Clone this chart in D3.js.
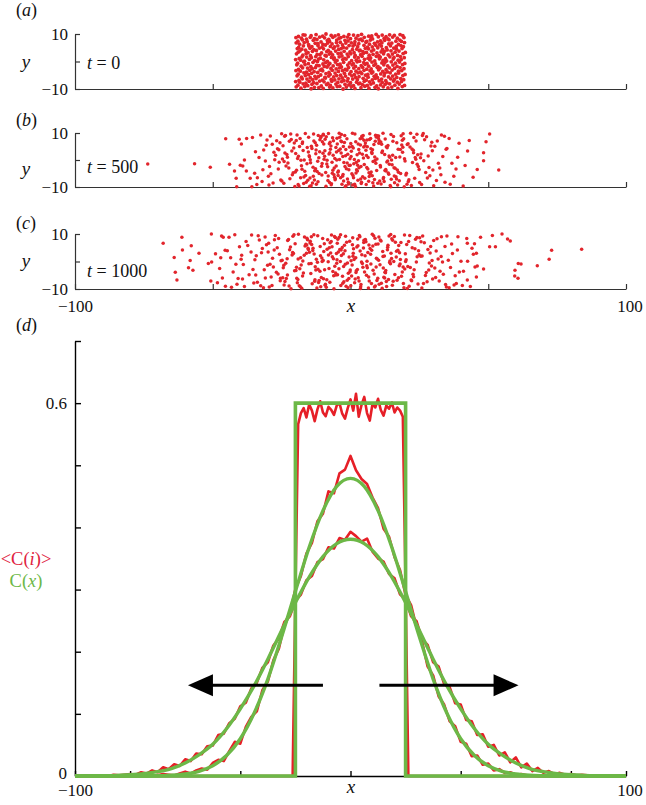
<!DOCTYPE html>
<html><head><meta charset="utf-8">
<script src="https://cdn.jsdelivr.net/npm/d3@7"></script>
<style>
body{margin:0;background:#fff}svg{display:block}
</style>
</head><body><svg id="chart" width="646" height="805"></svg>
<script>
// ---------- DATA ----------
const panelLetters = ["a", "b", "c", "d"];
const timeLabels = ["0", "500", "1000"];
const scatterYTicks = [-10, 0, 10];
const scatterXTicksTop = [-50, 0, 50, 100];
const scatterXTicksBottom = [-100, -50, 0, 50, 100];
const profileXTicks = [-100, -80, -40, 0, 40, 80, 100];
const profileYTicks = [0, 0.1, 0.2, 0.3, 0.4, 0.5, 0.6, 0.7];
const profileYLabels = ["0", "0.6"];

// panel (a) particles, t = 0
const aX = [
-19.7,-18.0,-16.6,-14.3,-13.1,-11.5,-9.9,-7.6,-6.4,-4.8,-2.7,-1.5,0.3,1.6,3.8,5.2,6.7,8.9,10.1,11.9,13.6,15.0,17.2,18.8,
-19.1,-17.2,-15.5,-14.0,-12.2,-10.6,-8.7,-7.3,-5.3,-3.9,-2.0,-0.6,1.1,2.9,4.3,6.1,7.4,9.5,10.9,12.6,14.2,16.1,17.7,19.6,
-19.9,-18.4,-16.2,-15.0,-13.4,-11.2,-9.6,-8.2,-6.8,-4.6,-3.2,-1.1,0.0,2.2,3.4,5.0,6.9,8.3,10.4,11.5,13.2,15.6,17.0,18.5,
-18.7,-17.5,-15.8,-13.7,-12.5,-10.2,-9.1,-7.0,-5.7,-4.2,-2.4,-0.9,0.8,2.5,4.6,5.7,7.9,9.0,11.3,12.8,14.6,15.9,18.2,19.3,
-19.4,-17.8,-16.4,-14.6,-12.9,-11.7,-9.3,-7.9,-6.1,-5.0,-3.0,-1.8,0.5,1.9,3.1,5.5,6.4,8.6,9.8,12.2,13.8,15.3,16.8,19.0,
-19.0,-16.9,-15.2,-14.1,-11.9,-10.8,-8.9,-7.4,-5.6,-3.6,-2.2,-0.3,1.4,2.7,4.1,6.3,7.7,9.3,11.0,12.4,14.4,16.4,17.5,19.8,
-19.8,-18.2,-16.0,-14.8,-13.2,-11.0,-10.1,-7.8,-6.6,-4.4,-2.9,-1.3,0.2,2.0,3.6,4.9,7.1,8.1,10.2,11.7,13.4,15.1,17.4,18.6,
-18.9,-17.4,-15.6,-13.9,-12.7,-10.4,-8.5,-7.1,-5.2,-4.0,-1.9,-0.7,1.2,3.0,4.4,5.9,7.5,9.7,10.7,12.9,14.1,16.0,18.0,19.4,
-19.5,-17.9,-16.5,-14.4,-12.3,-11.4,-9.5,-8.0,-6.3,-4.7,-3.3,-1.0,0.6,1.8,3.9,5.3,6.6,8.5,10.0,12.1,13.5,15.4,16.9,18.9,
-19.2,-17.0,-15.3,-13.6,-12.0,-10.0,-9.0,-7.5,-5.5,-3.8,-2.5,-0.4,1.0,2.4,4.8,6.0,7.8,9.1,11.4,12.5,14.8,16.3,17.8,19.7,
-19.9,-18.1,-16.7,-14.9,-13.0,-11.6,-9.7,-8.4,-6.0,-4.9,-2.8,-1.6,0.4,2.1,3.3,5.1,7.0,8.8,10.5,11.8,13.1,15.5,17.3,18.4,
-18.6,-17.6,-15.9,-14.2,-12.6,-10.9,-8.8,-6.9,-5.9,-4.1,-2.1,-0.8,1.5,2.8,4.2,6.4,7.3,9.4,10.8,12.7,14.3,15.8,18.1,19.5,
-19.6,-17.3,-16.1,-14.5,-12.1,-11.1,-9.2,-7.7,-6.5,-4.5,-3.1,-1.2,0.1,1.7,3.7,4.7,6.8,8.2,10.3,12.0,13.7,15.2,17.1,19.1,
-19.0,-18.3,-15.4,-13.8,-12.4,-10.5,-8.6,-7.2,-5.4,-3.5,-2.3,-0.2,1.3,3.2,4.5,5.8,7.6,9.6,11.1,12.3,14.7,16.2,17.6,19.9,
-19.3,-17.7,-16.3,-14.7,-13.3,-11.3,-9.8,-8.1,-6.2,-4.3,-3.4,-1.4,0.7,2.3,3.5,5.4,6.5,8.4,9.9,11.6,13.3,15.7,16.7,18.7,
-18.8,-17.1,-15.1,-14.0,-11.8,-10.3,-9.1,-7.3,-5.8,-4.6,-2.6,-0.5,0.9,2.6,4.9,6.2,7.9,9.2,11.2,13.0,14.5,16.6,18.3,19.2,
-19.7,-18.5,-16.8,-15.2,-12.8,-11.8,-10.0,-8.3,-6.7,-5.1,-2.9,-1.7,0.3,1.5,3.0,5.6,6.9,8.7,10.6,11.4,13.9,15.0,17.4,19.6,
-19.1,-17.5,-15.7,-13.5,-12.2,-10.7,-8.4,-7.6,-5.0,-3.7,-2.0,-0.9,1.6,3.1,4.3,5.9,7.2,9.8,10.9,12.4,14.0,16.5,17.9,18.5,
-19.8,-17.8,-16.0,-14.6,-13.1,-11.2,-9.4,-7.9,-6.4,-4.2,-3.5,-1.1,0.0,2.0,3.8,5.0,7.5,8.0,10.1,12.2,13.6,15.3,17.0,19.4,
-18.9,-17.2,-16.5,-14.3,-12.5,-10.1,-8.9,-7.0,-5.6,-4.4,-2.4,-0.6,1.1,2.7,4.0,6.6,7.7,9.3,11.5,12.9,14.2,15.9,18.0,19.0
];
const aY = [
-9.2,-9.7,-9.1,-9.9,-9.4,-9.5,-9.8,-9.3,-9.6,-9.1,-10.0,-9.3,-9.2,-9.8,-9.5,-9.0,-9.7,-9.4,-9.9,-9.2,-9.6,-9.3,-9.8,-9.1,
-8.6,-8.1,-8.8,-8.3,-8.0,-8.9,-8.4,-8.7,-8.2,-9.0,-8.3,-8.5,-8.8,-8.1,-8.4,-8.7,-8.2,-8.9,-8.5,-8.3,-8.1,-8.6,-8.2,-8.7,
-7.3,-7.5,-7.9,-7.2,-7.7,-7.1,-7.4,-8.0,-7.2,-7.6,-7.3,-7.1,-7.7,-7.5,-7.9,-7.2,-7.4,-7.8,-7.0,-7.6,-7.8,-7.1,-7.5,-7.3,
-6.9,-6.3,-6.4,-6.6,-6.2,-6.8,-6.0,-6.5,-6.7,-6.3,-6.9,-6.2,-6.4,-6.6,-6.1,-6.8,-6.7,-6.1,-6.4,-7.0,-6.3,-6.5,-6.2,-6.6,
-5.2,-5.7,-5.1,-5.9,-5.4,-5.5,-5.8,-5.3,-5.6,-5.1,-6.0,-5.3,-5.2,-5.8,-5.5,-5.0,-5.7,-5.4,-5.9,-5.2,-5.6,-5.3,-5.8,-5.1,
-4.6,-4.1,-4.8,-4.3,-4.0,-4.9,-4.4,-4.7,-4.2,-5.0,-4.3,-4.5,-4.8,-4.1,-4.4,-4.7,-4.2,-4.9,-4.5,-4.3,-4.1,-4.6,-4.2,-4.7,
-3.3,-3.5,-3.9,-3.2,-3.7,-3.1,-3.4,-4.0,-3.2,-3.6,-3.3,-3.1,-3.7,-3.5,-3.9,-3.2,-3.4,-3.8,-3.0,-3.6,-3.8,-3.1,-3.5,-3.3,
-2.9,-2.3,-2.4,-2.6,-2.2,-2.8,-2.0,-2.5,-2.7,-2.3,-2.9,-2.2,-2.4,-2.6,-2.1,-2.8,-2.7,-2.1,-2.4,-3.0,-2.3,-2.5,-2.2,-2.6,
-1.2,-1.7,-1.1,-1.9,-1.4,-1.5,-1.8,-1.3,-1.6,-1.1,-2.0,-1.3,-1.2,-1.8,-1.5,-1.0,-1.7,-1.4,-1.9,-1.2,-1.6,-1.3,-1.8,-1.1,
-0.6,-0.1,-0.8,-0.3,0.0,-0.9,-0.4,-0.7,-0.2,-1.0,-0.3,-0.5,-0.8,-0.1,-0.4,-0.7,-0.2,-0.9,-0.5,-0.3,-0.1,-0.6,-0.2,-0.7,
0.7,0.5,0.1,0.8,0.3,0.9,0.6,0.0,0.8,0.4,0.7,0.9,0.3,0.5,0.1,0.8,0.6,0.2,1.0,0.4,0.2,0.9,0.5,0.7,
1.1,1.7,1.6,1.4,1.8,1.2,2.0,1.5,1.3,1.7,1.1,1.8,1.6,1.4,1.9,1.2,1.3,1.9,1.6,1.0,1.7,1.5,1.8,1.4,
2.8,2.3,2.9,2.1,2.6,2.5,2.2,2.7,2.4,2.9,2.0,2.7,2.8,2.2,2.5,3.0,2.3,2.6,2.1,2.8,2.4,2.7,2.2,2.9,
3.4,3.9,3.2,3.7,4.0,3.1,3.6,3.3,3.8,3.0,3.7,3.5,3.2,3.9,3.6,3.3,3.8,3.1,3.5,3.7,3.9,3.4,3.8,3.3,
4.7,4.5,4.1,4.8,4.3,4.9,4.6,4.0,4.8,4.4,4.7,4.9,4.3,4.5,4.1,4.8,4.6,4.2,5.0,4.4,4.2,4.9,4.5,4.7,
5.1,5.7,5.6,5.4,5.8,5.2,6.0,5.5,5.3,5.7,5.1,5.8,5.6,5.4,5.9,5.2,5.3,5.9,5.6,5.0,5.7,5.5,5.8,5.4,
6.8,6.3,6.9,6.1,6.6,6.5,6.2,6.7,6.4,6.9,6.0,6.7,6.8,6.2,6.5,7.0,6.3,6.6,6.1,6.8,6.4,6.7,6.2,6.9,
7.4,7.9,7.2,7.7,8.0,7.1,7.6,7.3,7.8,7.0,7.7,7.5,7.2,7.9,7.6,7.3,7.8,7.1,7.5,7.7,7.9,7.4,7.8,7.3,
8.7,8.5,8.1,8.8,8.3,8.9,8.6,8.0,8.8,8.4,8.7,8.9,8.3,8.5,8.1,8.8,8.6,8.2,9.0,8.4,8.2,8.9,8.5,8.7,
9.1,9.7,9.6,9.4,9.8,9.2,10.0,9.5,9.3,9.7,9.1,9.8,9.6,9.4,9.9,9.2,9.3,9.9,9.6,9.0,9.7,9.5,9.8,9.4
];

// panel (b) particles, t = 500
const bX = [
0.3,2.7,4.1,1.2,3.6,0.8,4.7,2.0,1.6,3.1,0.1,4.4,2.4,3.9,1.0,2.9,4.9,0.5,3.3,1.8,4.2,2.2,0.6,3.7,1.4,4.6,2.6,0.9,3.0,1.9,4.0,0.2,2.5,3.5,1.1,4.8,2.1,0.7,3.8,1.5,4.3,2.8,
-3.4,-1.9,-4.9,-0.6,-2.6,-1.1,-4.0,-2.1,-0.1,-4.5,-1.7,-3.2,-0.8,-2.8,-4.4,-1.3,-3.6,-0.4,-2.4,-4.1,-2.0,-3.1,-1.0,-4.8,-2.5,-1.5,-3.9,-0.2,-2.9,-4.3,-1.2,-3.5,-0.7,-2.2,-4.6,-1.8,-3.3,-0.5,-2.7,-3.7,-1.6,-5.0,
5.2,7.8,9.1,6.3,8.5,5.7,9.6,6.9,7.2,8.0,5.0,9.3,6.6,8.8,7.5,5.4,9.9,6.1,8.2,7.0,5.9,9.0,6.8,7.7,8.4,5.3,9.5,6.4,7.3,8.7,5.6,9.2,6.0,7.9,8.1,5.8,9.7,6.7,7.4,8.9,
-5.3,-7.6,-9.4,-6.2,-8.3,-5.8,-9.8,-6.7,-7.1,-8.9,-5.1,-9.0,-6.5,-8.6,-7.4,-5.6,-9.6,-6.0,-8.0,-7.8,-5.9,-9.2,-6.9,-7.3,-8.5,-5.5,-9.7,-6.3,-7.0,-8.8,-5.2,-9.3,-6.6,-7.7,-8.2,-5.7,-9.9,-6.4,-7.5,-8.1,
10.4,12.9,14.2,11.1,13.6,10.8,14.7,12.0,11.6,13.2,10.1,14.4,12.4,13.9,11.0,12.8,14.9,10.6,13.3,11.8,14.1,12.2,10.3,13.7,11.4,14.6,12.6,10.9,13.0,11.9,14.0,10.2,12.5,13.5,11.3,14.8,
-10.5,-12.8,-14.3,-11.2,-13.5,-10.7,-14.6,-12.1,-11.7,-13.1,-10.0,-14.5,-12.3,-13.8,-11.1,-12.7,-14.9,-10.4,-13.4,-11.9,-14.0,-12.4,-10.2,-13.6,-11.5,-14.7,-12.5,-10.8,-13.0,-11.8,-14.2,-10.3,-12.6,-13.3,-11.4,-14.8,
15.3,17.7,19.0,16.2,18.4,15.9,19.6,16.8,17.1,18.9,15.1,19.3,16.5,18.1,17.4,15.6,19.8,16.0,18.6,17.9,15.8,19.1,16.7,17.3,18.2,15.4,19.5,16.4,17.0,18.8,
-15.2,-17.6,-19.2,-16.1,-18.5,-15.8,-19.7,-16.9,-17.2,-18.7,-15.0,-19.4,-16.6,-18.0,-17.5,-15.5,-19.9,-16.3,-18.3,-17.8,-15.7,-19.0,-16.8,-17.4,-18.1,-15.3,-19.6,-16.4,-17.0,-18.9,
20.3,22.8,24.1,21.2,23.5,20.9,24.6,22.1,21.6,23.0,20.1,24.4,22.5,23.8,21.0,22.9,24.9,20.6,23.3,21.8,24.2,22.3,20.5,23.7,
-20.4,-22.7,-24.2,-21.3,-23.6,-20.8,-24.7,-22.0,-21.5,-23.1,-20.2,-24.5,-22.4,-23.9,-21.1,-22.9,-24.9,-20.6,-23.4,-21.7,-24.1,-22.2,-20.0,-23.8,
25.4,27.9,29.2,26.1,28.5,25.8,29.7,26.9,27.3,28.2,25.1,29.5,26.6,28.8,27.6,25.6,29.9,26.4,
-25.3,-27.8,-29.1,-26.2,-28.4,-25.9,-29.6,-26.8,-27.2,-28.9,-25.0,-29.4,-26.5,-28.1,-27.5,-25.6,-29.8,-26.0,
30.6,32.4,34.1,31.2,33.5,30.2,34.7,31.9,33.0,32.8,31.5,34.3,
-32.6,-34.5,-31.5,-30.9,-33.8,-30.3,-34.0,-31.8,-33.2,-32.1,-30.6,-34.8,
35.8,35.0,36.8,39.4,37.5,38.3,36.2,38.9,
-37.7,-35.6,-39.6,-37.8,-35.8,-38.5,-36.4,-39.1,
40.9,42.5,43.1,44.5,41.6,
-40.4,-43.9,-41.3,-42.1,-40.0,-41.5,
48.3,48.3,49.2,46.0,
-45.3,50.5,53.8,-50.9,-56.6,-73.6
];
const bY = [
3.2,-7.5,8.8,-1.4,5.6,-9.3,0.7,-4.8,9.6,-2.9,6.1,-6.2,1.9,-8.7,4.4,-0.3,7.3,-5.1,2.6,-9.8,8.1,-3.6,5.0,-7.0,0.2,9.1,-1.9,-5.7,3.9,6.8,-8.2,1.3,-4.1,7.9,-6.6,4.8,-0.9,9.9,-2.4,-9.0,2.1,5.9,
2.6,-9.8,8.1,-3.6,5.0,-7.0,0.2,9.1,-1.9,-5.7,3.9,6.8,-8.2,1.3,-4.1,7.9,-6.6,4.8,-0.9,9.9,-2.4,-9.0,2.1,5.9,-7.8,-3.2,8.4,0.5,-6.0,3.5,-1.1,7.0,-8.9,6.5,-4.5,1.6,9.4,-2.0,-5.4,4.1,-9.5,0.0,
-6.8,2.4,9.2,-3.3,5.7,-9.1,0.4,7.6,-5.2,3.8,-1.7,8.5,-7.9,1.1,-4.4,6.3,-8.6,4.9,-0.6,9.7,-2.8,6.9,-6.1,2.9,-9.6,5.3,-3.9,0.9,8.0,-7.2,3.6,-1.2,7.4,-5.8,-8.4,1.7,9.0,-4.7,4.2,-0.2,
4.6,-8.3,1.4,7.1,-2.5,-6.4,9.3,-0.8,5.2,-9.7,3.0,-4.6,8.2,-1.5,6.6,-7.3,0.3,-5.5,9.8,2.2,-3.0,7.7,-8.8,4.0,-0.1,-6.9,5.9,1.8,-9.2,8.6,-2.2,3.4,-4.9,6.0,-7.6,0.6,9.5,-3.8,2.7,-5.9,
7.2,-4.1,1.0,-8.9,5.4,-2.0,9.4,-6.5,3.3,-0.7,8.1,-9.4,2.0,-5.3,6.7,-3.5,0.0,-7.8,4.5,9.9,-1.6,-8.0,6.2,-4.8,2.8,-9.9,7.8,-2.6,4.9,-6.9,1.5,8.9,-3.9,-0.4,5.8,-7.1,
-2.3,6.4,-9.5,3.1,-6.0,8.7,0.1,-4.3,9.1,-7.4,2.5,-1.0,5.5,-8.5,7.5,-3.2,1.2,-5.6,9.6,-0.5,4.3,-9.0,6.8,-2.7,0.8,-6.7,3.7,8.3,-4.0,-8.1,5.1,-1.3,2.3,7.0,-5.0,-9.7,
1.8,-7.7,4.7,-3.1,9.0,-5.9,0.5,6.4,-9.3,2.9,-1.8,7.9,-6.2,3.9,-4.5,8.7,-0.4,-8.4,5.6,1.1,-2.9,9.7,-7.0,4.0,-5.0,6.9,-9.9,0.9,-3.7,7.3,
8.4,-3.4,0.6,-8.2,5.0,-1.4,7.2,-6.3,3.5,-9.6,1.6,9.3,-4.2,-0.1,6.1,-7.5,2.4,-5.7,8.0,-2.1,4.6,-9.1,0.0,6.7,-6.6,3.0,-3.8,9.8,-8.7,1.4,
-4.9,3.6,9.5,-7.3,0.9,6.0,-2.4,-9.4,4.8,8.3,-5.6,1.9,-0.9,7.0,-8.0,2.7,-3.5,5.7,-6.8,9.9,-1.6,4.1,-9.0,0.3,
6.3,-1.1,-8.6,3.3,9.1,-4.7,0.4,-6.9,7.6,2.0,-9.8,5.3,-3.0,8.8,-5.5,1.0,-7.8,4.4,-2.2,9.6,-0.6,6.9,-4.4,2.6,
0.8,-6.7,5.2,9.1,-2.8,-9.1,3.4,7.5,-4.6,1.5,-8.3,6.6,-0.3,-5.8,8.6,2.2,-3.7,9.8,
-7.4,2.9,8.9,-3.3,5.8,-0.8,-9.3,7.1,1.8,-5.1,9.7,-2.4,4.2,-8.5,0.1,6.4,-6.0,3.8,
5.1,-3.0,8.8,-7.6,1.3,-9.5,4.0,-1.2,9.3,-5.5,7.0,-8.2,
9.3,3.1,3.7,-0.4,-6.6,7.4,-9.1,-3.6,0.9,-8.0,5.5,-4.9,
8.0,4.3,-1.2,6.2,-6.0,-3.3,-9.0,1.0,
8.0,8.3,5.9,-4.1,-9.9,0.0,-6.8,-2.2,
-9.6,3.3,7.2,-6.4,-2.0,
7.7,-1.6,-9.9,-4.1,-1.9,-6.8,
2.7,-0.3,6.8,-3.5,
7.9,9.6,-3.7,-2.7,-1.4,-1.5
];

// panel (c) particles, t = 1000
const cX = [
0.4,2.6,4.3,1.1,3.7,0.9,4.8,2.1,1.5,3.2,0.2,4.5,2.3,3.8,1.0,2.8,4.9,0.6,3.4,1.7,4.1,2.0,0.7,3.6,1.3,4.7,2.5,0.8,3.1,1.9,4.0,0.1,2.7,3.5,
-0.3,-2.5,-4.4,-1.2,-3.6,-0.8,-4.9,-2.2,-1.6,-3.3,-0.1,-4.6,-2.4,-3.9,-1.1,-2.9,-4.8,-0.5,-3.5,-1.8,-4.2,-2.0,-0.6,-3.7,-1.4,-4.7,-2.6,-0.9,-3.0,-1.9,-4.1,-0.2,-2.8,-3.4,
5.3,7.6,9.2,6.1,8.4,5.8,9.7,6.8,7.1,8.9,5.1,9.4,6.5,8.1,7.4,5.6,9.9,6.3,8.6,7.9,5.9,9.0,6.7,7.3,8.2,5.4,9.6,6.0,7.7,8.7,5.2,9.3,6.6,
-5.4,-7.7,-9.1,-6.2,-8.3,-5.7,-9.8,-6.9,-7.2,-8.8,-5.0,-9.5,-6.4,-8.0,-7.5,-5.5,-9.9,-6.1,-8.5,-7.8,-5.8,-9.2,-6.6,-7.4,-8.1,-5.3,-9.7,-6.0,-7.0,-8.6,-5.1,-9.4,-6.7,
10.3,12.8,14.3,11.2,13.5,10.7,14.6,12.1,11.7,13.1,10.0,14.5,12.3,13.8,11.1,12.7,14.9,10.4,13.4,11.9,14.0,12.4,10.2,13.6,11.5,14.7,12.5,10.8,13.0,11.8,14.2,
-10.4,-12.9,-14.2,-11.1,-13.6,-10.8,-14.7,-12.0,-11.6,-13.2,-10.1,-14.4,-12.4,-13.9,-11.0,-12.8,-14.9,-10.6,-13.3,-11.8,-14.1,-12.2,-10.3,-13.7,-11.4,-14.6,-12.6,-10.9,-13.0,-11.9,-14.3,
15.2,17.8,19.1,16.3,18.5,15.7,19.6,16.9,17.2,18.8,15.0,19.4,16.6,18.0,17.5,15.5,19.9,16.1,18.3,17.7,15.9,19.2,16.7,17.4,18.1,15.3,19.7,
-15.3,-17.7,-19.0,-16.2,-18.4,-15.8,-19.5,-16.8,-17.1,-18.9,-15.1,-19.3,-16.5,-18.1,-17.4,-15.6,-19.8,-16.0,-18.6,-17.9,-15.9,-19.1,-16.7,-17.3,-18.2,-15.4,-19.6,
20.4,22.7,24.2,21.3,23.6,20.8,24.7,22.0,21.5,23.1,20.2,24.5,22.4,23.9,21.1,22.9,24.9,20.6,23.4,21.7,24.1,22.2,20.0,
-20.3,-22.8,-24.1,-21.2,-23.5,-20.9,-24.6,-22.1,-21.6,-23.0,-20.1,-24.4,-22.5,-23.8,-21.0,-22.9,-24.8,-20.5,-23.3,-21.8,-24.2,-22.3,-20.7,
25.5,27.8,29.1,26.2,28.4,25.9,29.6,26.8,27.2,28.9,25.1,29.4,26.5,28.1,27.5,25.6,29.8,26.0,28.6,
-25.4,-27.7,-29.2,-26.1,-28.5,-25.8,-29.7,-26.9,-27.3,-28.8,-25.2,-29.5,-26.6,-28.0,-27.6,-25.5,-29.9,-26.3,-28.3,
33.0,34.3,30.6,32.2,31.1,33.7,30.2,34.8,31.8,32.9,30.9,33.4,31.4,34.5,32.5,
-30.5,-32.6,-34.2,-31.3,-33.5,-30.9,-34.7,-32.0,-31.6,-33.1,-30.1,-34.4,-32.3,-33.8,-31.0,
39.0,38.8,37.6,38.4,35.8,35.0,36.3,37.0,39.5,36.7,35.5,38.0,
-35.4,-37.9,-39.2,-36.1,-38.5,-35.9,-39.7,-36.8,-37.3,-38.9,-35.1,-39.5,
40.1,42.2,42.4,42.5,42.4,44.1,41.0,43.5,40.6,44.6,
-40.3,-42.6,-44.1,-41.2,-43.5,-40.8,-44.7,-42.0,-41.6,-43.2,
45.0,45.7,45.2,46.0,48.3,45.7,47.2,
-48.3,-46.8,-46.2,-47.1,-45.5,-47.5,-46.5,-45.4,-49.0,
51.5,55.0,57.0,58.0,50.5,52.6,60.9,61.9,59.7,59.6,60.8,67.8,72.1,73.0,83.9,
-68.0,-64.0,-63.6,-63.0,-61.2,-61.0,-57.8,-58.2,-58.8,-57.2,-55.0,-50.5,-51.6,-50.4,-50.7
];
const cY = [
-5.3,8.2,-0.7,4.6,-9.2,1.9,6.9,-3.4,-7.7,9.5,0.3,-2.1,5.3,-8.4,3.0,-5.9,7.7,-1.3,9.0,-6.4,2.5,-4.0,6.1,-9.8,0.7,4.9,-2.9,8.6,-7.1,1.4,-0.2,-8.8,5.7,3.8,
7.4,-1.8,3.5,-6.8,9.7,-4.3,0.6,5.9,-9.0,2.2,-3.1,8.1,-7.4,4.4,-0.5,-5.4,6.6,1.6,-8.7,9.2,-2.6,3.9,-6.2,0.0,7.0,-4.8,2.8,-9.5,5.1,-1.0,8.8,-3.7,-7.9,4.2,
2.1,-8.0,6.3,-2.3,9.4,-5.0,0.9,-7.1,4.7,8.5,-3.8,1.2,-9.6,5.6,-0.9,7.2,-6.1,3.3,-4.5,9.9,-1.5,-8.9,6.0,2.6,-3.2,8.0,-6.9,0.1,4.1,-9.3,7.6,-2.0,-5.6,
-4.2,5.0,-8.3,1.0,7.9,-1.7,-6.3,9.6,3.1,-9.4,-0.6,6.5,-3.6,2.4,-7.5,8.7,0.4,-5.2,4.5,-2.5,9.1,-8.6,1.7,6.8,-0.1,-4.9,3.6,-9.9,7.3,-6.6,2.9,-3.0,5.4,
8.9,-3.3,0.2,-7.9,5.2,-1.2,9.8,-5.7,3.6,-9.1,6.4,-0.8,2.0,-6.5,7.5,-4.1,1.1,-8.3,4.3,-2.4,9.3,-6.0,0.5,5.9,-9.7,3.0,-3.9,7.8,-7.3,1.8,-0.4,
1.3,-6.6,9.0,-3.5,4.8,-9.2,6.7,-0.3,-7.6,2.7,8.4,-4.4,0.8,-8.1,5.5,-1.9,3.4,-5.8,9.7,-2.8,6.2,-9.6,0.0,4.0,-6.9,7.4,-3.1,2.1,-7.2,9.4,-0.7,
-8.6,3.2,-2.0,7.0,-5.4,0.0,9.6,-6.8,4.1,-3.8,8.3,-9.5,1.6,-0.9,5.8,-7.2,2.8,-4.7,6.9,-1.5,9.1,-8.0,3.7,-5.9,0.7,7.7,-2.7,
4.4,-9.7,0.9,6.3,-2.6,8.5,-6.1,2.3,-4.2,9.9,-0.8,-7.7,5.6,1.4,-5.3,7.9,-3.3,3.0,-8.8,-1.3,6.0,-6.5,8.9,0.2,-9.2,4.8,-2.1,
6.2,-4.6,1.7,-9.0,8.1,-1.8,3.9,-6.7,9.5,-3.0,0.6,-8.2,5.0,-0.2,7.3,-5.5,2.5,-9.8,4.6,-2.2,8.7,-7.0,0.0,
-3.4,7.6,-8.5,2.4,-0.6,9.2,-5.9,4.3,-9.9,1.0,6.5,-2.3,8.0,-7.3,3.3,-4.9,0.5,9.7,-6.2,5.3,-1.4,-8.9,2.9,
1.9,-7.4,5.5,9.3,-3.1,-9.6,0.4,6.8,-5.1,3.1,8.6,-1.6,-8.0,4.4,-4.0,7.2,-6.4,2.0,-0.5,
-6.1,4.2,-1.0,8.4,-8.7,2.6,6.6,-3.9,9.5,-5.6,0.3,-9.3,5.0,-2.0,7.9,-7.0,3.5,-4.5,1.2,
9.0,5.5,-2.4,-7.1,3.8,-4.6,7.6,-9.3,0.9,1.8,-5.8,-0.2,8.3,-8.4,-3.5,
6.1,-8.8,2.1,-3.0,9.4,-6.0,0.6,4.7,-9.5,7.8,-1.4,-4.9,3.2,-7.5,8.9,
9.0,4.2,-8.5,-8.0,-9.5,9.3,-2.2,2.9,-3.8,6.4,0.5,-5.2,
-2.9,7.3,-6.4,3.5,-9.1,9.6,0.8,-4.8,5.8,-1.1,-7.8,2.3,
0.1,8.4,6.6,0.1,-6.7,4.8,-3.5,-9.1,-8.7,2.6,
5.4,-3.8,8.8,-8.3,1.4,-6.2,3.9,9.7,-1.0,-9.4,
6.5,-5.6,-2.0,-1.6,-2.7,3.0,8.8,
-7.7,9.3,8.8,1.4,4.1,-2.5,-6.0,-9.0,2.8,
9.5,10.0,8.2,7.5,5.4,5.4,-0.7,-0.9,-3.2,-5.3,-6.1,-1.5,0.8,4.1,4.5,
6.6,1.5,-3.9,-6.7,8.8,4.2,5.7,0.4,-2.3,-3.2,3.0,10.0,-0.7,-0.2,-7.1
];

// panel (d): simulated <C(i)> (red), sampled every 1 (t=0) and every 2 (t=500, t=1000) from x=-100
const redT0 = [
0,0,0,0,0,0,0,0,0,0, 0,0,0,0,0,0,0,0,0,0, 0,0,0,0,0,0,0,0,0,0, 0,0,0,0,0,0,0,0,0,0,
0,0,0,0,0,0,0,0,0,0, 0,0,0,0,0,0,0,0,0,0, 0,0,0,0,0,0,0,0,0,0, 0,0,0,0,0,0,0,0,0,0,
.29,
.566,.584,.592,.577,.598,.588,.571,.590,.603,.585,.579,.594,.589,.581,.596,.600,.583,.575,.592,.606,
.588,.615,.578,.597,.610,.584,.572,.599,.593,.607,.589,.580,.596,.591,.601,.585,.593,.588,.578,
.30,
0,0,0,0,0,0,0,0,0,0, 0,0,0,0,0,0,0,0,0,0, 0,0,0,0,0,0,0,0,0,0, 0,0,0,0,0,0,0,0,0,0,
0,0,0,0,0,0,0,0,0,0, 0,0,0,0,0,0,0,0,0,0, 0,0,0,0,0,0,0,0,0,0, 0,0,0,0,0,0,0,0,0,0
];
const redT500 = [
0,0,0,0,0,0,0,0,0,0,.001,0,.001,0,.001,
.001,.003,.002,.001,.004,.007,.004,.009,.012,.010,
.021,.026,.024,.040,.055,.052,.079,.095,.104,.138,
.152,.186,.205,.243,.262,.301,.322,.358,.375,.410,
.422,.458,.455,.487,.493,.515,.492,.478,.470,.448,
.431,.398,.385,.352,.331,.291,.275,.239,.216,.176,
.162,.128,.115,.088,.080,.055,.052,.032,.033,.018,
.020,.009,.011,.005,.006,.002,.003,.001,.001,0,
0,
0,0,0,0,0,0,0,0,0,0,0,0,0,0,0
];
const redT1000 = [
0,0,.001,0,.001,.001,0,.002,.001,.002,
.003,.002,.006,.004,.009,.006,.014,.011,.019,.016,
.027,.024,.036,.035,.048,.049,.066,.068,.085,.092,
.112,.118,.141,.150,.174,.183,.210,.221,.248,.257,
.282,.292,.315,.322,.344,.349,.368,.366,.383,.380,
.393,.386,.377,.382,.361,.350,.345,.325,.318,.292,
.285,.257,.249,.220,.211,.183,.176,.148,.143,.117,
.115,.090,.088,.066,.067,.047,.050,.033,.038,.022,
.030,.014,.020,.008,.013,.005,.008,.003,.005,.002,
.003,
.001,.002,.001,.001,0,.001,0,0,.001,0
];
// continuum solution C(x) (green), sampled every 5 from x=-100
const greenT500 = [
0,0,0,0,0,0,.0005,.0012,.0032,.0076,.0165,.033,.060,.101,.156,.224,.297,.368,.427,.466,
.479,
.466,.427,.368,.297,.224,.156,.101,.060,.033,.0165,.0076,.0032,.0012,.0005,0,0,0,0,0,0
];
const greenT1000 = [
.0001,.0002,.0005,.001,.002,.0038,.007,.012,.021,.034,.051,.076,.108,.145,.188,.234,.279,.320,.353,.374,
.381,
.374,.353,.320,.279,.234,.188,.145,.108,.076,.051,.034,.021,.012,.007,.0038,.002,.001,.0005,.0002,.0001
];
const greenT0X = [-100, -20, -20, 20, 20, 100];
const greenT0Y = [0, 0, 0.6, 0.6, 0, 0];
// arrows (data coords): tail x, head x, level
const arrowTail = [-10, 10.5];
const arrowHead = [-59, 61];
const arrowLevel = [0.146, 0.146];

// ---------- DRAWING ----------
const SERIF = '"Liberation Serif"';
const RED_DOT = "#e2252c", RED_LINE = "#e61f27", GREEN = "#6cb847";
const svg = d3.select("#chart");
const fmt = d3.format("d");

const x = d3.scaleLinear().domain([-100, 100]).range([75, 626]);

function styleAxis(g, col, w) {
  g.attr("font-size", 17);
  g.select(".domain").attr("stroke", col).attr("stroke-width", w);
  g.selectAll(".tick line").attr("stroke", col).attr("stroke-width", w);
  g.selectAll(".tick text").attr("fill", "#111");
}

const scatterRanges = [[89, 34], [187, 133], [289, 234]];
const scatterData = [[aX, aY], [bX, bY], [cX, cY]];
const dotRadius = [1.9, 1.75, 1.75];
const yLabelBase = [68, 175, 267];
const tLabelBase = [69, 173, 277];
const letterBase = [16, 126, 229];

scatterData.forEach(([xs, ys], i) => {
  const y = d3.scaleLinear().domain([-10, 10]).range(scatterRanges[i]);
  const last = i === 2;
  const gx = svg.append("g").attr("transform", `translate(0,${y(-10)})`)
    .call(d3.axisBottom(x).tickValues(last ? scatterXTicksBottom : scatterXTicksTop)
      .tickSize(-5).tickSizeOuter(0).tickPadding(11)
      .tickFormat(d => (last && Math.abs(d) === 100) ? fmt(d) : ""));
  styleAxis(gx, "#333", 1.2);
  gx.selectAll(".tick text").attr("dx", d => d === 100 ? "0.2em" : 0);
  const gy = svg.append("g").attr("transform", `translate(${x(-100)},0)`)
    .call(d3.axisLeft(y).tickValues(scatterYTicks).tickSize(-5).tickSizeOuter(0).tickPadding(7)
      .tickFormat(d => d === 0 ? "" : fmt(d)));
  styleAxis(gy, "#333", 1.2);

  const n = Math.min(xs.length, ys.length);
  svg.append("g").selectAll("circle").data(d3.range(n)).join("circle")
    .attr("cx", k => x(xs[k])).attr("cy", k => y(ys[k]))
    .attr("r", dotRadius[i]).attr("fill", RED_DOT);

  const pl = svg.append("text").attr("x", 16).attr("y", letterBase[i])
    .attr("font-size", 18).attr("fill", "#111");
  pl.append("tspan").text("(");
  pl.append("tspan").attr("font-style", "italic").text(panelLetters[i]);
  pl.append("tspan").text(")");
  svg.append("text").attr("x", 26).attr("y", yLabelBase[i]).attr("text-anchor", "middle")
    .attr("font-size", 19).attr("font-style", "italic")
    .attr("fill", "#111").text("y");
  const tl = svg.append("text").attr("x", 87).attr("y", tLabelBase[i])
    .attr("font-size", 18).attr("fill", "#111");
  tl.append("tspan").attr("font-style", "italic").text("t");
  tl.append("tspan").text(" = " + timeLabels[i]);
});
svg.append("text").attr("x", 351).attr("y", 312).attr("text-anchor", "middle")
  .attr("font-size", 19).attr("font-style", "italic")
  .attr("fill", "#111").text("x");

// ---------- panel (d) ----------
const yD = d3.scaleLinear().domain([0, 0.7]).range([776, 341]);
const gxd = svg.append("g").attr("transform", `translate(0,${yD(0)})`)
  .call(d3.axisBottom(x).tickValues(profileXTicks).tickSize(-5).tickSizeOuter(0).tickPadding(8)
    .tickFormat(d => Math.abs(d) === 100 ? fmt(d) : ""));
styleAxis(gxd, "#000", 1.4);
gxd.selectAll(".tick text").attr("dx", d => d === 100 ? "0.2em" : 0);
const gyd = svg.append("g").attr("transform", `translate(${x(-100)},0)`)
  .call(d3.axisLeft(yD).tickValues(profileYTicks).tickSize(-6).tickSizeOuter(0).tickPadding(8)
    .tickFormat(d => { const t = d === 0 ? "0" : d3.format(".1f")(d); return profileYLabels.includes(t) ? t : ""; }));
styleAxis(gyd, "#000", 1.4);
gyd.selectAll(".tick text").attr("dy", d => d === 0 ? "0.15em" : "0.32em");

const line = d3.line().x(d => x(d[0])).y(d => yD(d[1]));
const redSeries = [
  [redT0, -100, 1],
  [redT500, -100, 2],
  [redT1000, -100, 2]
];
redSeries.forEach(([vals, x0, step]) => {
  const pts = vals.map((v, k) => [x0 + k * step, v]);
  svg.append("path").attr("d", line(pts)).attr("fill", "none")
    .attr("stroke", RED_LINE).attr("stroke-width", 2.6).attr("stroke-linejoin", "round");
});
const smooth = d3.line().x(d => x(d[0])).y(d => yD(d[1])).curve(d3.curveMonotoneX);
[greenT500, greenT1000].forEach(vals => {
  const pts = vals.map((v, k) => [-100 + k * 5, v]);
  svg.append("path").attr("d", smooth(pts)).attr("fill", "none")
    .attr("stroke", GREEN).attr("stroke-width", 3.4).attr("stroke-linejoin", "round");
});
svg.append("path").attr("d", line(greenT0X.map((v, k) => [v, greenT0Y[k]])))
  .attr("fill", "none").attr("stroke", GREEN).attr("stroke-width", 3.6).attr("stroke-linejoin", "miter");

arrowTail.forEach((t, k) => {
  const x1 = x(t), x2 = x(arrowHead[k]), yy = yD(arrowLevel[k]);
  const dir = Math.sign(x2 - x1), L = 25, Hh = 11;
  svg.append("line").attr("x1", x1).attr("y1", yy).attr("x2", x2 - dir * (L - 2)).attr("y2", yy)
    .attr("stroke", "#000").attr("stroke-width", 3);
  svg.append("path").attr("d", `M${x2},${yy}L${x2 - dir * L},${yy - Hh}L${x2 - dir * L},${yy + Hh}Z`)
    .attr("fill", "#000");
});

const pd = svg.append("text").attr("x", 16).attr("y", 331)
  .attr("font-size", 18).attr("fill", "#111");
pd.append("tspan").text("(");
pd.append("tspan").attr("font-style", "italic").text(panelLetters[3]);
pd.append("tspan").text(")");
svg.append("text").attr("x", 351).attr("y", 793).attr("text-anchor", "middle")
  .attr("font-size", 19).attr("font-style", "italic")
  .attr("fill", "#111").text("x");
const l1 = svg.append("text").attr("x", 26).attr("y", 565).attr("text-anchor", "middle")
  .attr("font-size", 18.5).attr("fill", "#e0233f");
l1.append("tspan").text("<C(");
l1.append("tspan").attr("font-style", "italic").text("i");
l1.append("tspan").text(")>");
const l2 = svg.append("text").attr("x", 26).attr("y", 587).attr("text-anchor", "middle")
  .attr("font-size", 18.5).attr("fill", GREEN);
l2.append("tspan").text("C(");
l2.append("tspan").attr("font-style", "italic").text("x");
l2.append("tspan").text(")");

// serif face for every text, set inline
svg.selectAll("text").style("font-family", SERIF);
</script>
</body></html>
